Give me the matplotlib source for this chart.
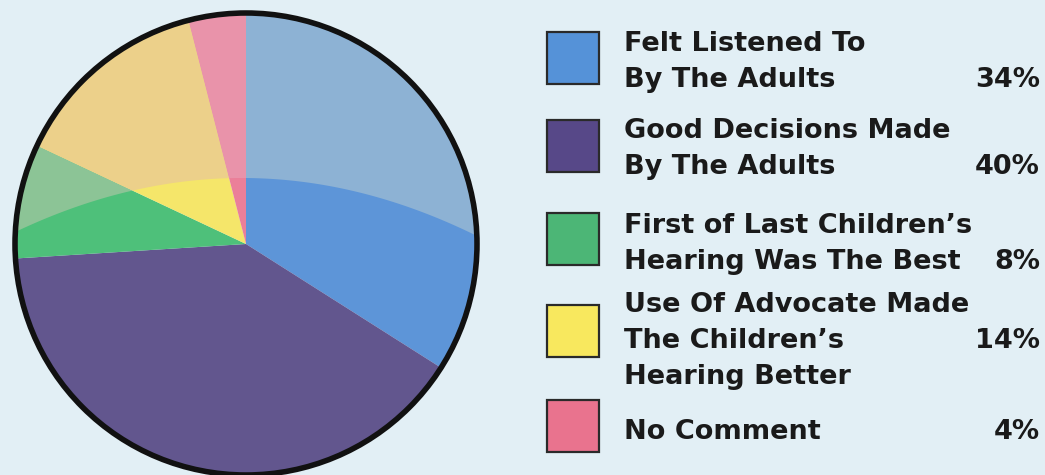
import numpy as np
import matplotlib
matplotlib.use("Agg")
import matplotlib.pyplot as plt
from matplotlib.patches import Circle, Rectangle, Polygon

# Survey responses
labels = [
    "Felt Listened To\nBy The Adults",
    "Good Decisions Made\nBy The Adults",
    "First of Last Children\u2019s\nHearing Was The Best",
    "Use Of Advocate Made\nThe Children\u2019s\nHearing Better",
    "No Comment",
]
shares = [34, 40, 8, 14, 4]
pct_labels = ["34%", "40%", "8%", "14%", "4%"]

slice_colors = ["#5d95d8", "#62568e", "#4ec07a", "#f5e66a", "#eb7f99"]
shine_colors = ["#8db2d4", "#62568e", "#8cc496", "#ecd08a", "#e993aa"]
legend_colors = ["#5592d8", "#574888", "#4cb676", "#f8e85e", "#e9738e"]

W, H = 1045, 475
fig = plt.figure(figsize=(W / 100, H / 100), dpi=100)
fig.patch.set_facecolor("#e2eff5")
ax = fig.add_axes([0, 0, 1, 1])

cx, cy, r = 246, H - 244, 231

# base pie
wedges, _ = ax.pie(shares, colors=slice_colors, startangle=90, counterclock=False,
                   center=(cx, cy), radius=r, wedgeprops=dict(linewidth=0),
                   normalize=True, frame=True)

# lighter upper band of the disc
xs = np.linspace(cx - r - 10, cx + r + 10, 200)
ys = H - (178 + 0.00105 * (xs - 242) ** 2)
band = Polygon(np.column_stack([np.r_[xs, xs[-1], xs[0]], np.r_[ys, H, H]]),
               closed=True, transform=ax.transData)
shine, _ = ax.pie(shares, colors=shine_colors, startangle=90, counterclock=False,
                  center=(cx, cy), radius=r, wedgeprops=dict(linewidth=0),
                  normalize=True, frame=True)
for w in shine:
    w.set_clip_on(True)
    w.set_clip_path(band)

ax.set_xlim(0, W)
ax.set_ylim(0, H)
ax.set_aspect("equal")
ax.axis("off")

ax.add_patch(Circle((cx, cy), r, facecolor="none", edgecolor="#111111",
                    linewidth=4.0, zorder=5, clip_on=False))

# legend
font = dict(family="DejaVu Sans", weight="bold", size=19.5, color="#1a1a1a")
sq_tops = [32, 120, 213, 305, 400]
first_baselines = [51, 138, 233, 312, 439]
pct_line = [1, 1, 1, 1, 0]
line_step = 36
for i, lab in enumerate(labels):
    top = sq_tops[i]
    ax.add_patch(Rectangle((547, H - top - 52), 52, 52, facecolor=legend_colors[i],
                           edgecolor="#2a2a2a", linewidth=1.6, zorder=4))
    for j, line in enumerate(lab.split("\n")):
        ax.text(624, H - (first_baselines[i] + j * line_step), line,
                ha="left", va="baseline", **font)
    ax.text(1040, H - (first_baselines[i] + pct_line[i] * line_step), pct_labels[i],
            ha="right", va="baseline", **font)

fig.savefig("out.png", dpi=100, facecolor=fig.get_facecolor())
